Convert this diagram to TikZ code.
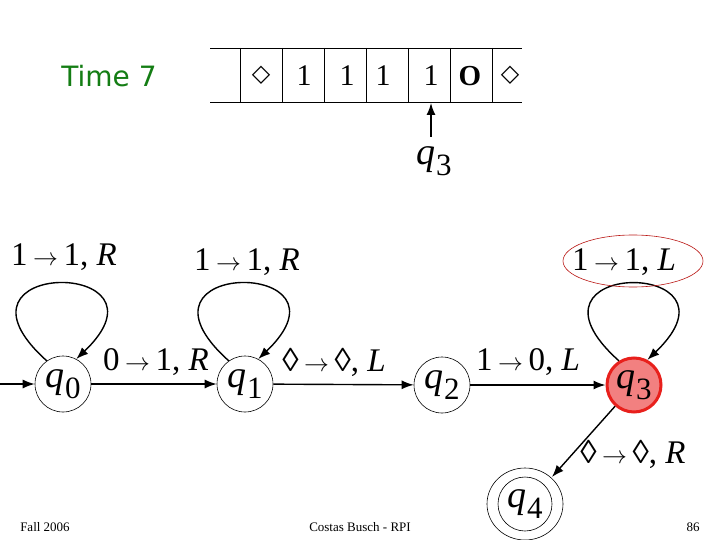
\documentclass[tikz,border=0pt]{standalone}
\usepackage{fontspec}
\setmainfont{Liberation Serif}
\newfontfamily\dejavu{DejaVu Sans}
\usetikzlibrary{arrows.meta}
\definecolor{tgreen}{RGB}{20,125,20}
\definecolor{qred}{RGB}{232,32,28}
\definecolor{qfill}{RGB}{242,128,128}
\newcommand\qsub[1]{\textit{q}\kern0.5pt\raisebox{-0.3em}{\fontsize{31}{31}\selectfont #1}}
\newcommand\tto{\,$\rightarrow$\,}
\tikzset{
  arr/.style={-{Latex[length=12pt,width=9pt]}, line width=1.4pt},
  state/.style={circle, draw, line width=0.6pt, minimum size=56pt, inner sep=0pt, font=\fontsize{38}{38}\selectfont},
  lbl/.style={font=\fontsize{33}{33}\selectfont, inner sep=0pt},
  cell/.style={font=\fontsize{30}{30}\selectfont, inner sep=0pt},
  foot/.style={font=\fontsize{13}{13}\selectfont, inner sep=0pt}
}
\begin{document}
\begin{tikzpicture}[x=1pt,y=-1pt]
\useasboundingbox (0,0) rectangle (720,540);
% title
\node[font=\dejavu\fontsize{28}{28}\selectfont, text=tgreen, inner sep=0pt] (title) at (109,76) {Time 7};
% tape
\draw[line width=0.6pt] (210,48) -- (522,48);
\draw[line width=0.6pt] (210,102) -- (522,102);
\foreach \x in {240,282,324,366,408,450,492} \draw[line width=0.6pt] (\x,48) -- (\x,102);
\node[cell, font=\dejavu\fontsize{24}{24}\selectfont] (c1) at (261,75) {◇};
\node[cell] (c2) at (304,76) {1};
\node[cell] (c3) at (347,76) {1};
\node[cell] (c4) at (383,76) {1};
\node[cell] (c5) at (431,76) {1};
\node[cell, font=\fontsize{29}{29}\selectfont\bfseries] (c6) at (470,76) {O};
\node[cell, font=\dejavu\fontsize{24}{24}\selectfont] (c7) at (510,75) {◇};
\node[font=\fontsize{38}{38}\selectfont, inner sep=0pt] (head) at (434,161) {\qsub{3}};
\coordinate (hd) at (431,103);
\coordinate (hs) at (431,137);
\draw[arr] (hs) -- (hd);
% states
\node[state] (q0) at (63,384) {\qsub{0}};
\node[state] (q1) at (245,384) {\qsub{1}};
\node[state] (q2) at (442,385) {\qsub{2}};
\node[state, draw=qred, fill=qfill, line width=3pt, minimum size=54pt] (q3) at (634,385) {\qsub{3}};
\node[state, minimum size=54pt] (q4) at (525,504) {\qsub{4}};
\draw[line width=0.6pt] (q4) ellipse (38pt and 36pt);
% initial
\coordinate (init) at (0,384);
\draw[arr] (init) -- (q0);
% transitions
\draw[arr] (q0) -- (q1);
\draw[arr] (q1) -- (q2);
\draw[arr] (q2) -- (q3);
\coordinate (q4in) at (552,477);
\draw[arr] (q3) -- (q4in);
% loops
\draw[arr] (q0.125) .. controls (-68,258) and (182,258) .. (q0.62);
\draw[arr] (q1.125) .. controls (114,258) and (364,258) .. (q1.62);
\draw[arr] (q3.122) .. controls (504,258) and (754,258) .. (q3.62);
% labels
\node[lbl] (l00) at (64,257) {1\tto 1, \textit{R}};
\node[lbl] (l11) at (247,262) {1\tto 1, \textit{R}};
\node[lbl] (l33) at (624,262) {1\tto 1, \textit{L}};
\draw[qred!80!black, line width=0.6pt] (633,261) ellipse (70pt and 26pt);
\node[lbl] (l01) at (156,362) {0\tto 1, \textit{R}};
\node[lbl] (l12) at (334,362) {◊\tto ◊, \textit{L}};
\node[lbl] (l23) at (528,362) {1\tto 0, \textit{L}};
\node[lbl] (l34) at (633,454) {◊\tto ◊, \textit{R}};
% footer
\node[foot] (f1) at (45,527) {Fall 2006};
\node[foot] (f2) at (360,527) {Costas Busch - RPI};
\node[foot] (f3) at (693,527) {86};
\end{tikzpicture}
\end{document}
